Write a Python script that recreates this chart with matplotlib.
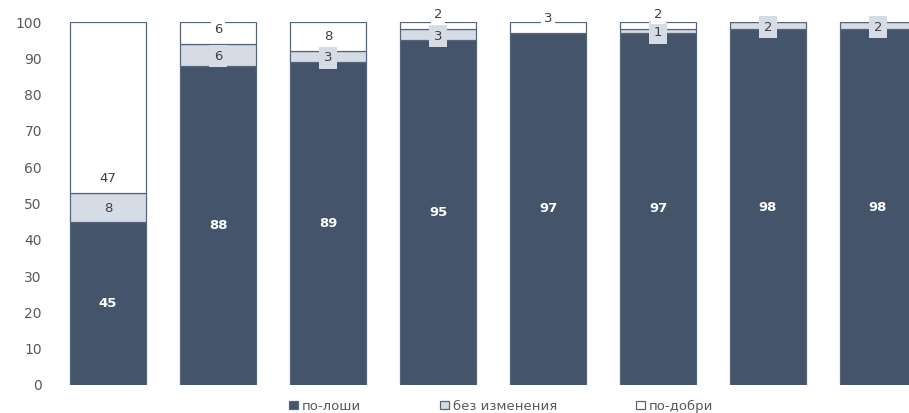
import numpy as np
import matplotlib
matplotlib.use("Agg")
import matplotlib.pyplot as plt

worse = [45, 88, 89, 95, 97, 97, 98, 98]
same = [8, 6, 3, 3, 0, 1, 2, 2]
better = [47, 6, 8, 2, 3, 2, 0, 0]
series_names = ["по-лоши", "без изменения", "по-добри"]

DARK = "#44546A"
EDGE = "#56657C"
LIGHT = "#D6DCE5"
TXT = "#595959"

plt.rcParams['font.family'] = ['DejaVu Sans']

fig = plt.figure(figsize=(9.09, 4.13), dpi=100)
ax = fig.add_axes([53 / 909, 28 / 413, 880 / 909, 363 / 413])

x = np.arange(len(worse))
w = 0.69
worse = np.array(worse)
same = np.array(same)
better = np.array(better)

b1 = ax.bar(x, worse, w, color=DARK, edgecolor=EDGE, linewidth=0.9, label=series_names[0])
b2 = ax.bar(x, same, w, bottom=worse, color=LIGHT, edgecolor=EDGE, linewidth=0.9, label=series_names[1])
b3 = ax.bar(x, better, w, bottom=worse + same, color="white", edgecolor=EDGE, linewidth=0.9, label=series_names[2])

for i in range(len(x)):
    ax.text(x[i], worse[i] / 2, str(worse[i]), ha="center", va="center",
            color="white", fontweight="bold", fontsize=9.5)
    if same[i] > 0:
        ax.text(x[i], worse[i] + same[i] / 2 - 0.4, str(same[i]), ha="center", va="center",
                color="#404040", fontsize=9.5,
                bbox=dict(boxstyle="square,pad=0.35", fc=LIGHT, ec="none"))
    if better[i] > 0:
        ax.text(x[i], worse[i] + same[i] + 4, str(better[i]), ha="center", va="center",
                color="#404040", fontsize=9.5,
                bbox=dict(boxstyle="square,pad=0.2", fc="white", ec="none"))

ax.set_xlim(-0.5, 7.5)
ax.set_ylim(0, 100)
ax.set_yticks(range(0, 101, 10))
ax.set_xticks([])
ax.tick_params(axis="y", length=0, labelsize=10, labelcolor=TXT, pad=8)
for s in ax.spines.values():
    s.set_visible(False)

fig.legend(handles=[b1, b2, b3], labels=series_names, loc="center",
           bbox_to_anchor=(501 / 909, 7 / 413), ncol=3, frameon=False,
           fontsize=9.5, labelcolor=TXT, handlelength=0.65, handleheight=0.65,
           handletextpad=0.3, columnspacing=6.0)

fig.savefig("out.png", dpi=100)
